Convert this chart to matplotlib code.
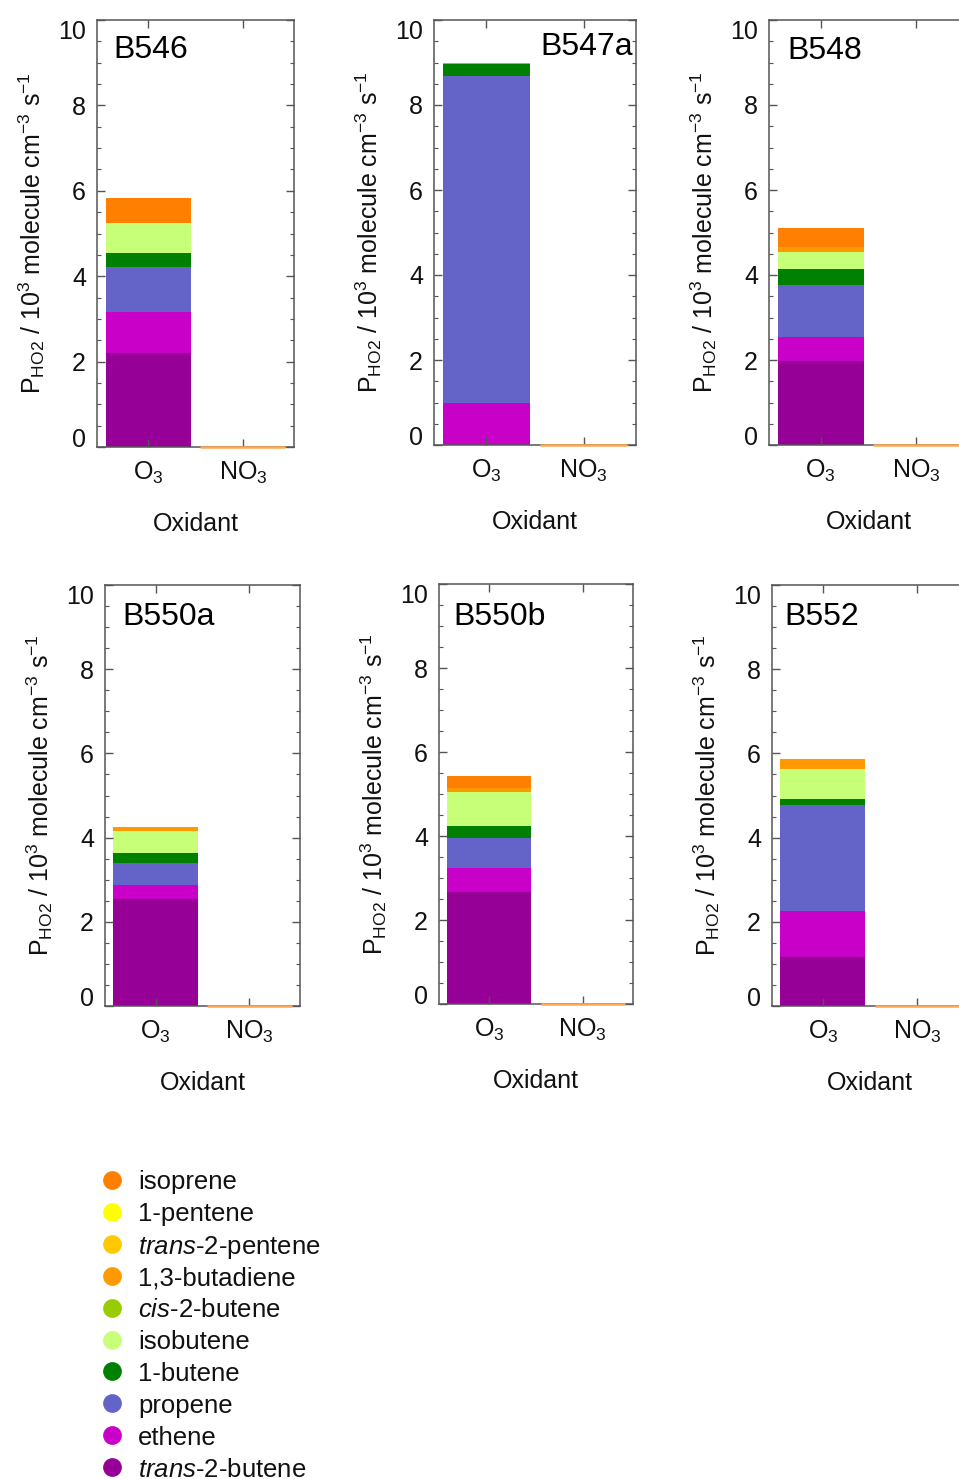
import matplotlib
matplotlib.use("Agg")
import matplotlib.pyplot as plt
from matplotlib.lines import Line2D
import numpy as np

plt.rcParams['font.family'] = ['Liberation Sans', 'DejaVu Sans']
plt.rcParams['mathtext.fontset'] = 'custom'
plt.rcParams['mathtext.rm'] = 'Liberation Sans'
plt.rcParams['mathtext.it'] = 'Liberation Sans:italic'
plt.rcParams['mathtext.bf'] = 'Liberation Sans:bold'

# ---- data: HO2 production (10^3 molecule cm^-3 s^-1) from alkene ozonolysis ----
experiments = ['B546', 'B547a', 'B548', 'B550a', 'B550b', 'B552']
oxidants = ['O$_3$', 'NO$_3$']

# O3-initiated contributions per experiment
trans_2_butene = [2.20, 0.00, 1.97, 2.53, 2.67, 1.17]
ethene = [0.97, 0.98, 0.58, 0.35, 0.57, 1.09]
propene = [1.04, 7.70, 1.21, 0.51, 0.71, 2.51]
butene_1 = [0.33, 0.28, 0.37, 0.24, 0.30, 0.14]
isobutene = [0.70, 0.00, 0.41, 0.52, 0.79, 0.73]
cis_2_butene = [0.00, 0.00, 0.00, 0.00, 0.00, 0.00]
butadiene_13 = [0.00, 0.03, 0.12, 0.11, 0.10, 0.23]
trans_2_pentene = [0.00, 0.00, 0.00, 0.00, 0.00, 0.00]
pentene_1 = [0.00, 0.00, 0.00, 0.00, 0.00, 0.00]
isoprene = [0.60, 0.00, 0.45, 0.00, 0.28, 0.00]

# NO3-initiated contributions (none in these experiments)
no3_contribution = [0.00, 0.00, 0.00, 0.00, 0.00, 0.00]

# stacking order, bottom to top
species_labels = [r'$\mathit{trans}$-2-butene', 'ethene', 'propene', '1-butene',
                  'isobutene', r'$\mathit{cis}$-2-butene', '1,3-butadiene',
                  r'$\mathit{trans}$-2-pentene', '1-pentene', 'isoprene']
species_values = [trans_2_butene, ethene, propene, butene_1, isobutene,
                  cis_2_butene, butadiene_13, trans_2_pentene, pentene_1, isoprene]
species_colors = ['#960096', '#C800C8', '#6464C8', '#008000', '#C8FF78',
                  '#99CC00', '#FF9900', '#FFC800', '#FFFF00', '#FF7F00']

# ---- layout (pixel boxes: left, right, top, bottom) ----
W, H = 959, 1479
panel_boxes = [(97, 294, 20, 447), (434, 636, 20, 445), (769, 968, 20, 445),
               (105, 300, 585, 1006), (439, 633, 584, 1004), (772, 968, 585, 1006)]
title_pos = [(0.081, 0.930), (0.525, 0.936), (0.090, 0.927),
             (0.087, 0.924), (0.072, 0.921), (0.061, 0.924)]

frame_col = '#555555'
text_col = '#111111'
FS = 18

fig = plt.figure(figsize=(W / 100, H / 100), dpi=100)

x = np.arange(1, len(oxidants) + 1)
bar_w = 0.9

for k, (l, r, t, b) in enumerate(panel_boxes):
    ax = fig.add_axes([l / W, 1 - b / H, (r - l) / W, (b - t) / H])
    bottom = np.zeros(len(oxidants))
    for vals, col in zip(species_values, species_colors):
        h = np.array([vals[k], no3_contribution[k]])
        ax.bar(x, h, bar_w, bottom=bottom, color=col, linewidth=0)
        bottom = bottom + h
    # empty categories are shown as a thin line at zero
    empty = bottom == 0
    ax.bar(x[empty], bottom[empty], bar_w, bottom=0, facecolor='none',
           edgecolor='#FFA850', linewidth=1.8, zorder=3, clip_on=False)

    ax.set_xlim(0.46, 2.54)
    ax.set_ylim(0, 10)
    ax.set_xticks(x)
    ax.set_xticklabels(oxidants, fontsize=FS, color=text_col)
    ax.set_yticks(np.arange(0, 11, 2))
    ax.set_yticks(np.arange(0, 10.01, 0.5), minor=True)
    ax.set_yticklabels([str(v) for v in range(0, 11, 2)], fontsize=FS, color=text_col)
    ax.tick_params(axis='both', which='major', direction='in', length=6, width=1.0,
                   color=frame_col, top=True, right=True)
    ax.tick_params(axis='y', which='minor', direction='in', length=3, width=0.8,
                   color=frame_col, right=True)
    ax.tick_params(axis='y', which='major', pad=8)
    ax.tick_params(axis='x', which='major', pad=9)
    for sp in ax.spines.values():
        sp.set_color(frame_col)
        sp.set_linewidth(1.1)

    ticks = ax.yaxis.get_major_ticks()
    ticks[0].label1.set_verticalalignment('baseline')
    ticks[-1].label1.set_verticalalignment('top')

    ax.set_xlabel('Oxidant', fontsize=FS, color=text_col, labelpad=19)
    ax.set_ylabel(r'P$_{\mathrm{HO2}}$ / 10$^{3}$ molecule cm$^{-3}$ s$^{-1}$',
                  fontsize=FS, color=text_col)
    ax.yaxis.set_label_coords(-50 / (r - l), 0.5)

    tx, ty = title_pos[k]
    ax.text(tx, ty, experiments[k], transform=ax.transAxes, fontsize=23,
            ha='left', va='center', color='black')

# ---- legend (top entry first) ----
leg_y0, leg_dy = 1180, 31.9
for i, (lab, col) in enumerate(zip(species_labels[::-1], species_colors[::-1])):
    y = 1 - (leg_y0 + i * leg_dy) / H
    fig.add_artist(Line2D([112 / W], [y], transform=fig.transFigure, marker='o',
                          markersize=13.5, color=col, markeredgewidth=0, linestyle='none'))
    fig.text(138 / W, y, lab, fontsize=18.5, ha='left', va='center_baseline',
             color=text_col)

fig.savefig('out.png', dpi=100)
